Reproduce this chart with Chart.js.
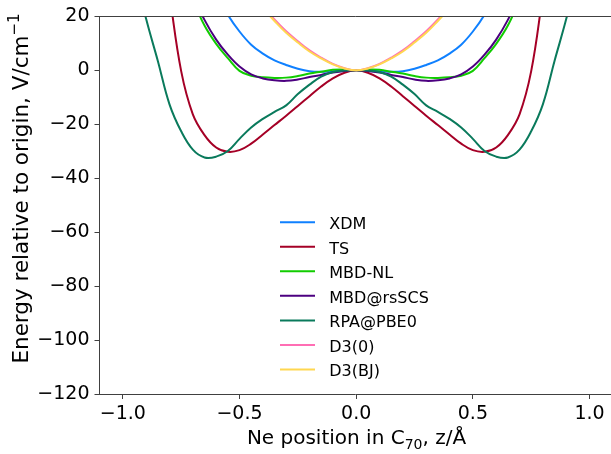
<!DOCTYPE html>
<html>
<head>
<meta charset="utf-8">
<script src="https://cdn.jsdelivr.net/npm/chart.js@4.4.1/dist/chart.umd.min.js"></script>
<style>
  html, body { margin: 0; padding: 0; background: #fff; }
  canvas { display: block; }
</style>
</head>
<body>
<canvas id="neChart" width="611" height="454"></canvas>
<script>
"use strict";

// Ne position along z (Angstrom)
const zPos = [-0.95, -0.90, -0.85, -0.80, -0.75, -0.70, -0.65, -0.60, -0.55, -0.50,
              -0.45, -0.40, -0.35, -0.30, -0.25, -0.20, -0.15, -0.10, -0.05, 0.00,
               0.05,  0.10,  0.15,  0.20,  0.25,  0.30,  0.35,  0.40,  0.45,  0.50,
               0.55,  0.60,  0.65,  0.70,  0.75,  0.80,  0.85,  0.90,  0.95];

// energies relative to origin (null = far outside the axes)
const xdm = [null, null, null, null, null, null, null, 29, 20.6, 14.4,
             9.5, 6.2, 3.7, 2.0, 0.6, -0.3, -0.5, -0.3, -0.1, 0,
             -0.1, -0.3, -0.5, -0.3, 0.6, 2.0, 3.7, 6.2, 9.5, 14.4,
             20.6, 29, null, null, null, null, null, null, null];
const ts = [null, null, null, 28, -0.3, -16.3, -24, -28.6, -30.2, -29.6,
            -27.2, -23.8, -20.3, -16.8, -13.2, -9.6, -6.0, -3.0, -0.9, 0,
            -0.9, -3.0, -6.0, -9.6, -13.2, -16.8, -20.3, -23.8, -27.2, -29.6,
            -30.2, -28.6, -24, -16.3, -0.3, 28, null, null, null];
const mbdNl = [null, null, null, null, null, 26, 16.6, 9.8, 4.5, -0.2,
               -2.0, -2.6, -2.8, -2.7, -2.1, -1.2, -0.5, 0.2, 0.3, 0,
               0.3, 0.2, -0.5, -1.2, -2.1, -2.7, -2.8, -2.6, -2.0, -0.2,
               4.5, 9.8, 16.6, 26, null, null, null, null, null];
const mbdRs = [null, null, null, null, null, 28, 18.7, 11.4, 5.8, 1.4,
               -1.5, -3.0, -3.7, -3.9, -3.4, -2.5, -1.7, -0.8, -0.2, 0,
               -0.2, -0.8, -1.7, -2.5, -3.4, -3.9, -3.7, -3.0, -1.5, 1.4,
               5.8, 11.4, 18.7, 28, null, null, null, null, null];
const rpa = [37, 19, 3.5, -12.6, -22.6, -29.4, -32.3, -32.0, -29.9, -25.4,
             -21.2, -18.0, -15.4, -13.0, -8.8, -5.3, -2.3, -0.6, -0.1, 0,
             -0.1, -0.6, -2.3, -5.3, -8.8, -13.0, -15.4, -18.0, -21.2, -25.4,
             -29.9, -32.0, -32.3, -29.4, -22.6, -12.6, 3.5, 19, 37];
const d3Zero = [null, null, null, null, null, null, null, null, null, null,
                null, 23.8, 18.9, 14.5, 10.8, 7.4, 4.7, 2.4, 0.8, 0,
                0.8, 2.4, 4.7, 7.4, 10.8, 14.5, 18.9, 23.8, null, null,
                null, null, null, null, null, null, null, null, null];
const d3Bj = [null, null, null, null, null, null, null, null, null, null,
              null, 23, 18.3, 13.9, 10.3, 7.0, 4.4, 2.2, 0.7, 0,
              0.7, 2.2, 4.4, 7.0, 10.3, 13.9, 18.3, 23, null, null,
              null, null, null, null, null, null, null, null, null];

const seriesNames = ['XDM', 'TS', 'MBD-NL', 'MBD@rsSCS', 'RPA@PBE0', 'D3(0)', 'D3(BJ)'];
const seriesValues = [xdm, ts, mbdNl, mbdRs, rpa, d3Zero, d3Bj];
const seriesColors = ['#0f80ff', '#a50026', '#11cc00', '#4c0080', '#0a7a5c', '#ff6eb4', '#ffd750'];

const xTicks = [-1.0, -0.5, 0.0, 0.5, 1.0];
const yTicks = [-120, -100, -80, -60, -40, -20, 0, 20];

(function() {
    const FONT = '"DejaVu Sans", sans-serif'
    const SPINE = '#404040'
    const minus = s => s.replace('-', '\u2212')

    // draws a row of text pieces (normal / sub / superscript), centred on x
    const drawParts = (ctx, parts, x, y) => {
        let total = 0
        parts.forEach(p => {
            ctx.font = p.size + 'px ' + FONT
            p.w = ctx.measureText(p.text).width
            total += p.w
        })
        let cx = x - total / 2
        parts.forEach(p => {
            ctx.font = p.size + 'px ' + FONT
            ctx.fillText(p.text, cx, y + p.dy)
            cx += p.w
        })
    }

    const decor = {
        id: 'decor',
        afterDraw(chart) {
            const ctx = chart.ctx
            const area = chart.chartArea
            ctx.save()

            // top spine (the right one is beyond the canvas)
            ctx.strokeStyle = SPINE
            ctx.lineWidth = 1
            ctx.beginPath()
            ctx.moveTo(area.left, Math.round(area.top) + 0.5)
            ctx.lineTo(area.right, Math.round(area.top) + 0.5)
            ctx.stroke()

            // legend inside the axes
            ctx.textAlign = 'left'
            ctx.textBaseline = 'alphabetic'
            chart.data.datasets.forEach((ds, i) => {
                const y = 222.2 + i * 24.55
                ctx.strokeStyle = ds.borderColor
                ctx.lineWidth = 2
                ctx.beginPath()
                ctx.moveTo(280, y)
                ctx.lineTo(315, y)
                ctx.stroke()
                ctx.fillStyle = '#000'
                ctx.font = '16px ' + FONT
                ctx.fillText(ds.label, 329.3, y + 6.8)
            })

            // axis titles
            ctx.fillStyle = '#000'
            drawParts(ctx, [
                { text: 'Ne position in C', size: 20, dy: 0 },
                { text: '70', size: 14, dy: 4.5 },
                { text: ', z/\u00c5', size: 20, dy: 0 }
            ], 356.5, 444)

            ctx.translate(27.5, 188.5)
            ctx.rotate(-Math.PI / 2)
            drawParts(ctx, [
                { text: 'Energy relative to origin, V/cm', size: 21.5, dy: 0 },
                { text: '\u22121', size: 15, dy: -9 }
            ], 0, 0)

            ctx.restore()
        }
    }

    const datasets = seriesNames.map((name, i) => ({
        label: name,
        data: zPos.map((z, k) => ({ x: z, y: seriesValues[i][k] })),
        borderColor: seriesColors[i],
        borderWidth: 2,
        pointRadius: 0,
        fill: false,
        tension: 0.4,
        clip: 0,
        order: seriesNames.length - i   // later series on top, like matplotlib
    }))

    const axisCommon = {
        border: { display: true, color: SPINE, width: 1 },
        grid: { drawOnChartArea: false, drawTicks: true, tickLength: 5, tickColor: SPINE, tickWidth: 1 },
        title: { display: false }
    }

    new Chart(document.getElementById('neChart'), {
        type: 'line',
        data: { datasets: datasets },
        options: {
            responsive: false,
            animation: false,
            devicePixelRatio: 1,
            layout: { padding: { top: 13, right: 0, left: 0, bottom: 0 } },
            plugins: { legend: { display: false }, tooltip: { enabled: false } },
            scales: {
                x: Object.assign({}, axisCommon, {
                    type: 'linear',
                    min: -1.1,
                    max: 1.092,
                    afterBuildTicks: s => { s.ticks = xTicks.map(v => ({ value: v })) },
                    afterFit: s => { s.height = 60 },
                    ticks: {
                        color: '#000',
                        font: { family: FONT, size: 19 },
                        padding: 4,
                        maxRotation: 0,
                        callback: v => minus(Number(v).toFixed(1))
                    }
                }),
                y: Object.assign({}, axisCommon, {
                    type: 'linear',
                    min: -120,
                    max: 20,
                    afterBuildTicks: s => { s.ticks = yTicks.map(v => ({ value: v })) },
                    afterFit: s => { s.width = 99.5 },
                    ticks: {
                        color: '#000',
                        font: { family: FONT, size: 19 },
                        padding: 5,
                        callback: v => minus(String(v))
                    }
                })
            }
        },
        plugins: [decor]
    })
})();
</script>
</body>
</html>
